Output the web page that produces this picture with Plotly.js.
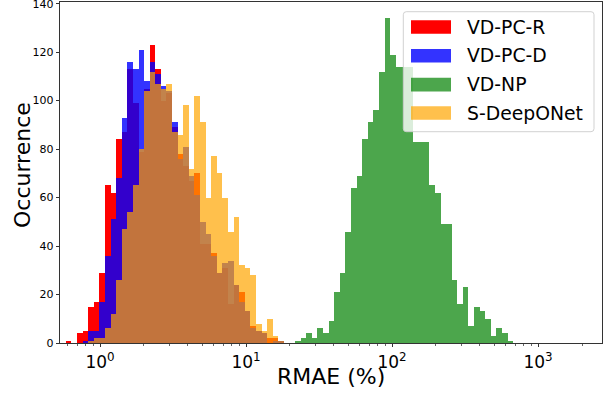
<!DOCTYPE html>
<html>
<head>
<meta charset="utf-8">
<script src="https://cdn.plot.ly/plotly-3.0.1.min.js"></script>
<style>html,body{margin:0;padding:0;background:#fff;}#chart{width:610px;height:396px;}</style>
</head>
<body>
<div id="chart"></div>
<script>
// ---- data (histogram counts on a shared log-spaced bin grid) ----
const binStartLog = -0.2342;   // log10(RMAE %) of the lower edge of bin 0
const binWidthLog = 0.0383;    // bin width in decades

const seriesNames = ['VD-PC-R', 'VD-PC-D', 'VD-NP', 'S-DeepONet'];

const vdpcRStart = 0;
const vdpcR = [1,0,4,5,15,17,29,65,62,84,87,113,99,79,105,123,113,100,103,89,78,73,67,70,41,41,37,29,31,16,24,21,13,7,5,4,2,2,1];

const vdpcDStart = 0;
const vdpcD = [0,0,0,1,5,5,17,36,51,68,93,116,113,121,108,116,111,106,104,91,76,81,69,61,50,45,36,29,33,34,24,17,13,6,5,4,0,1,1];

const vdnpStart = 41;
const vdnp = [1,2,4,2,6,4,9,21,29,46,64,69,84,91,96,112,134,119,114,114,114,83,83,83,65,62,49,49,26,16,23,7,15,13,10,3,6,4,1];

const sdeepStart = 4;
const sdeep = [1,2,2,6,12,26,47,54,65,80,104,112,107,105,107,87,86,98,72,102,91,60,77,70,60,46,52,32,31,28,8,5,10,3,1];

const xTickVals = [0, 1, 2, 3];
const xTickText = ['10<sup>0</sup>', '10<sup>1</sup>', '10<sup>2</sup>', '10<sup>3</sup>'];
const yTickVals = [0, 20, 40, 60, 80, 100, 120, 140];
const xTitle = 'RMAE (%)';
const yTitle = 'Occurrence';

// ---- styling ----
const colors = ['rgba(255,0,0,1)', 'rgba(0,0,255,0.8)', 'rgba(0,128,0,0.7)', 'rgba(255,165,0,0.7)'];
const FONT = 'DejaVu Sans, Liberation Sans, sans-serif';

function centers(start, counts) {
  return counts.map((_, i) => binStartLog + (start + i + 0.5) * binWidthLog);
}
function barTrace(name, start, counts, color) {
  return {
    type: 'bar', name: name,
    x: centers(start, counts), y: counts,
    width: binWidthLog,
    marker: {color: color, line: {width: 0}},
    showlegend: false, hoverinfo: 'skip'
  };
}

const data = [
  barTrace(seriesNames[0], vdpcRStart, vdpcR, colors[0]),
  barTrace(seriesNames[1], vdpcDStart, vdpcD, colors[1]),
  barTrace(seriesNames[2], vdnpStart, vdnp, colors[2]),
  barTrace(seriesNames[3], sdeepStart, sdeep, colors[3])
];

// minor log ticks
const minorVals = [];
for (let d = -1; d <= 3; d++) for (let m = 2; m <= 9; m++) minorVals.push(Math.log10(m) + d);

// pixel -> paper helpers
const ML = 60, MT = 2, MR = 8, MB = 53;
const PW = 610 - ML - MR, PH = 396 - MT - MB;
const px = x => (x - ML) / PW;
const py = y => (MT + PH - y) / PH;

function roundRect(x0, y0, x1, y1, r) {
  const rx = r / PW, ry = r / PH;
  const X0 = px(x0), X1 = px(x1), Y0 = py(y0), Y1 = py(y1);
  return `M${X0 + rx},${Y0} L${X1 - rx},${Y0} Q${X1},${Y0} ${X1},${Y0 - ry} L${X1},${Y1 + ry} Q${X1},${Y1} ${X1 - rx},${Y1} L${X0 + rx},${Y1} Q${X0},${Y1} ${X0},${Y1 + ry} L${X0},${Y0 - ry} Q${X0},${Y0} ${X0 + rx},${Y0} Z`;
}

const shapes = [{
  type: 'path', xref: 'paper', yref: 'paper', layer: 'above',
  path: roundRect(403.3, 11.7, 594, 131.7, 3),
  fillcolor: 'rgba(255,255,255,0.8)', line: {color: 'rgba(204,204,204,0.9)', width: 1}
}];
const annotations = [];
const rowY = [27.0, 55.8, 84.6, 113.0];
seriesNames.forEach((n, i) => {
  shapes.push({
    type: 'rect', xref: 'paper', yref: 'paper', layer: 'above',
    x0: px(411), x1: px(451), y0: py(rowY[i] - 6.8), y1: py(rowY[i] + 6.8),
    fillcolor: colors[i], line: {width: 0}
  });
  annotations.push({
    xref: 'paper', yref: 'paper', x: px(465), y: py(rowY[i]),
    xanchor: 'left', yanchor: 'middle', showarrow: false,
    text: n, font: {family: FONT, size: 18.8, color: '#000'}
  });
});
// axis titles
annotations.push({
  xref: 'paper', yref: 'paper', x: px(331), y: py(377),
  xanchor: 'center', yanchor: 'middle', showarrow: false,
  text: xTitle, font: {family: FONT, size: 22, color: '#000'}
});
annotations.push({
  xref: 'paper', yref: 'paper', x: px(22), y: py(165),
  xanchor: 'center', yanchor: 'middle', showarrow: false, textangle: -90,
  text: yTitle, font: {family: FONT, size: 22, color: '#000'}
});

const layout = {
  width: 610, height: 396,
  margin: {l: ML, r: MR, t: MT, b: MB},
  paper_bgcolor: '#fff', plot_bgcolor: '#fff',
  barmode: 'overlay', bargap: 0,
  font: {family: FONT, color: '#000'},
  xaxis: {
    range: [-0.274, 3.438], tickmode: 'array', tickvals: xTickVals, ticktext: xTickText,
    ticks: 'outside', ticklen: 3.5, tickwidth: 0.8, tickcolor: '#000',
    showline: true, linecolor: '#000', linewidth: 0.8, mirror: true,
    showgrid: false, zeroline: false, ticklabeloverflow: 'allow',
    tickfont: {family: FONT, size: 17, color: '#000'},
    minor: {tickmode: 'array', tickvals: minorVals, ticks: 'outside', ticklen: 2, tickwidth: 0.6, tickcolor: '#000', showgrid: false}
  },
  yaxis: {
    range: [0, 140.7], tickmode: 'array', tickvals: yTickVals,
    ticks: 'outside', ticklen: 3.5, tickwidth: 0.8, tickcolor: '#000',
    showline: true, linecolor: '#000', linewidth: 0.8, mirror: true,
    showgrid: false, zeroline: false, ticklabeloverflow: 'allow',
    tickfont: {family: FONT, size: 11, color: '#000'}
  },
  shapes: shapes,
  annotations: annotations,
  showlegend: false
};

Plotly.newPlot('chart', data, layout, {staticPlot: true, displayModeBar: false});
</script>
</body>
</html>
